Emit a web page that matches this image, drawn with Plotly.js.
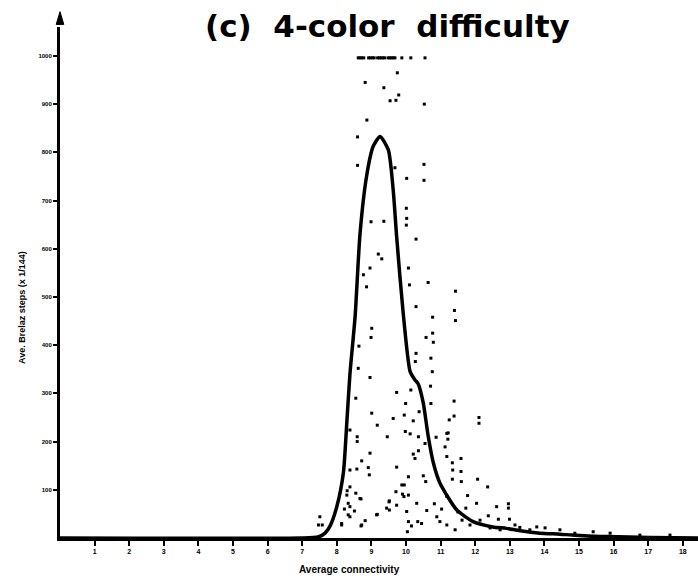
<!DOCTYPE html>
<html>
<head>
<meta charset="utf-8">
<script src="https://cdn.plot.ly/plotly-3.0.1.min.js"></script>
<style>html,body{margin:0;padding:0;background:#fff;}#chart{width:698px;height:580px;}</style>
</head>
<body>
<div id="chart"></div>
<script>
// Smoothed average curve
const curveX = [0, 6.94, 7.46, 7.66, 7.80, 8.00, 8.19, 8.29, 8.38, 8.53, 8.67, 8.86, 9.05, 9.25, 9.49, 9.63, 9.73, 9.92, 10.12, 10.26, 10.35, 10.50, 10.64, 10.79, 10.98, 11.47, 11.94, 12.51, 12.90, 13.30, 13.87, 14.45, 14.80, 15.60, 15.80, 17.05, 18.44];
const curveY = [0, 0, 0.02, 0.10, 0.24, 0.65, 1.35, 2.4, 3.4, 4.6, 6.3, 7.5, 8.12, 8.33, 8.05, 7.22, 6.25, 4.66, 3.45, 3.28, 3.2, 2.8, 2.12, 1.56, 1.14, 0.58, 0.34, 0.23, 0.2, 0.15, 0.1, 0.08, 0.06, 0.03, 0.03, 0.01, 0];

// Individual sample points
const dotX = [9.75, 8.82, 9.36, 9.79, 9.54, 9.71, 10.53, 8.87, 8.60, 8.60, 9.68, 10.52, 10.02, 10.52, 10.01, 10.02, 10.01, 8.99, 9.36, 10.29,
  9.20, 9.30, 8.96, 8.77, 10.07, 8.86, 10.64, 10.10, 11.43, 10.29, 11.40, 11.43, 10.77, 9.01, 8.99, 10.58, 10.77, 10.79, 8.64, 10.29,
  10.27, 10.72, 10.76, 8.62, 8.96, 9.73, 10.71, 10.72, 11.39, 9.99, 10.14, 8.55, 9.01, 9.63, 9.95, 10.21, 10.38, 11.25, 11.39, 12.11,
  12.11, 9.17, 8.38, 9.46, 9.98, 10.12, 10.36, 10.55, 10.87, 11.18, 11.13, 11.21, 8.59, 8.59, 8.96, 8.72, 8.38, 8.91, 8.94, 8.58,
  9.73, 10.26, 10.36, 10.21, 11.18, 11.59, 11.35, 11.59, 11.60, 12.07, 12.36, 12.04, 12.62, 8.38, 8.29, 8.67, 8.38, 8.22, 8.33, 10.07,
  10.50, 10.57, 9.95, 9.71, 9.90, 10.07, 9.52, 9.73, 9.94, 10.31, 10.60, 10.82, 11.03, 11.18, 10.89, 10.98, 11.18, 9.15, 9.52, 10.34,
  10.45, 10.16, 8.72, 8.14, 7.51, 7.47, 11.22, 11.34, 11.34, 11.78, 12.96, 12.96, 12.38, 12.67, 12.99, 8.30, 8.55, 8.70, 8.33, 8.51,
  8.38, 8.14, 8.70, 8.82, 9.17, 9.44, 9.51, 9.88, 10.02, 10.07, 10.04, 7.58, 15.41, 14.45, 13.78, 13.29, 11.85, 12.14, 12.43, 12.72,
  13.15, 13.58, 14.02, 14.88, 15.90, 16.76, 17.63, 11.42, 11.62, 11.50, 11.73,
  8.62, 8.67, 8.72, 8.78, 8.92, 8.97, 9.03, 9.08, 9.18, 9.23, 9.28, 9.33, 9.38, 9.48, 9.53, 9.58, 9.63, 9.68, 9.88, 10.14, 10.55];
const dotY = [9.65, 9.45, 9.34, 9.19, 9.07, 9.08, 9.0, 8.67, 8.32, 7.73, 7.68, 7.75, 7.46, 7.42, 6.84, 6.63, 6.49, 6.56, 6.57, 6.20,
  5.89, 5.79, 5.60, 5.46, 5.60, 5.21, 5.30, 5.25, 5.12, 4.80, 4.72, 4.51, 4.58, 4.35, 4.16, 4.16, 4.25, 4.06, 3.98, 3.83,
  3.66, 3.73, 3.45, 3.52, 3.33, 3.02, 3.15, 2.79, 2.84, 2.79, 3.07, 2.90, 2.59, 2.48, 2.55, 2.43, 2.62, 2.45, 2.53, 2.50,
  2.38, 2.34, 2.24, 2.10, 2.21, 2.16, 2.10, 1.96, 2.09, 2.17, 1.89, 2.05, 2.10, 2.00, 1.76, 1.60, 1.41, 1.46, 1.31, 1.43,
  1.47, 1.65, 1.81, 1.74, 1.69, 1.65, 1.41, 1.38, 1.17, 1.22, 1.06, 0.72, 0.65, 1.06, 0.89, 0.82, 0.65, 0.60, 0.48, 1.27,
  1.29, 1.17, 1.10, 0.96, 0.91, 0.89, 0.77, 0.68, 0.86, 0.72, 0.57, 0.71, 0.60, 0.86, 0.44, 0.34, 0.27, 0.48, 0.58, 0.34,
  0.30, 0.25, 0.27, 0.27, 0.44, 0.27, 2.18, 1.56, 1.22, 0.88, 0.71, 0.62, 0.46, 0.39, 0.39, 0.98, 0.93, 0.81, 0.72, 0.56,
  0.44, 0.30, 0.25, 0.36, 0.49, 0.62, 0.75, 1.10, 0.55, 0.34, 0.13, 0.27, 0.13, 0.17, 0.23, 0.22, 0.27, 0.37, 0.21, 0.17,
  0.27, 0.17, 0.21, 0.10, 0.10, 0.06, 0.06, 0.17, 0.37, 0.54, 0.62,
  9.96, 9.96, 9.96, 9.96, 9.96, 9.96, 9.96, 9.96, 9.96, 9.96, 9.96, 9.96, 9.96, 9.96, 9.96, 9.96, 9.96, 9.96, 9.96, 9.96, 9.96];

const xTicks = [1, 2, 3, 4, 5, 6, 7, 8, 9, 10, 11, 12, 13, 14, 15, 16, 17, 18];
const xTickText = ['1','2','3','4','5','6','7','8','9','10','11','12','13','14','15','16','17','18'];
const yTicks = [1, 2, 3, 4, 5, 6, 7, 8, 9, 10];
const yTickText = ['100','200','300','400','500','600','700','800','900','1000'];

const FONT = 'Liberation Sans, Arial, sans-serif';
const traces = [
  {x: dotX, y: dotY, type: 'scatter', mode: 'markers', cliponaxis: false,
   marker: {symbol: 'square', size: 3, color: '#000'}, hoverinfo: 'skip'},
  {x: curveX, y: curveY, type: 'scatter', mode: 'lines',
   line: {color: '#000', width: 3.5, shape: 'spline', smoothing: 0.6}, hoverinfo: 'skip'}
];

const layout = {
  width: 698, height: 580,
  margin: {l: 60, r: 0, t: 27, b: 42},
  paper_bgcolor: '#fff', plot_bgcolor: '#fff',
  showlegend: false,
  font: {family: FONT, color: '#000'},
  title: {text: '<b>(c)  4-color  difficulty</b>', x: 0.555, xanchor: 'center', y: 0.955, yanchor: 'middle',
          font: {size: 31, family: 'DejaVu Sans, sans-serif', color: '#000'}},
  xaxis: {range: [0, 18.44], showgrid: false, zeroline: false,
          showline: true, linecolor: '#000', linewidth: 3,
          tickvals: xTicks, ticktext: xTickText, ticks: 'outside', ticklen: 5, tickwidth: 2, tickcolor: '#000',
          tickfont: {size: 7, family: FONT, color: '#000', weight: 'bold'}},
  yaxis: {range: [0, 10.6], showgrid: false, zeroline: false,
          showline: true, linecolor: '#000', linewidth: 3,
          tickvals: yTicks, ticktext: yTickText, ticks: 'outside', ticklen: 4, tickwidth: 2, tickcolor: '#000',
          tickfont: {size: 6, family: FONT, color: '#000', weight: 'bold'}},
  annotations: [
    {text: '<b>Ave. Brelaz steps (x 1/144)</b>', xref: 'paper', yref: 'paper', x: -0.0596, y: 0.452,
     xanchor: 'center', yanchor: 'middle', textangle: -90, showarrow: false,
     font: {size: 9, family: FONT, color: '#000'}},
    {text: '<b>Average connectivity</b>', xref: 'paper', yref: 'paper', x: 0.4545, y: -0.0607,
     xanchor: 'center', yanchor: 'middle', showarrow: false,
     font: {size: 10, family: FONT, color: '#000'}}
  ],
  shapes: [
    {type: 'path', xref: 'paper', yref: 'paper', path: 'M -0.006 1.005 L 0 1.03 L 0.006 1.005 Z',
     fillcolor: '#000', line: {color: '#000', width: 1}}
  ]
};

Plotly.newPlot('chart', traces, layout, {staticPlot: true, displayModeBar: false});
</script>
</body>
</html>
